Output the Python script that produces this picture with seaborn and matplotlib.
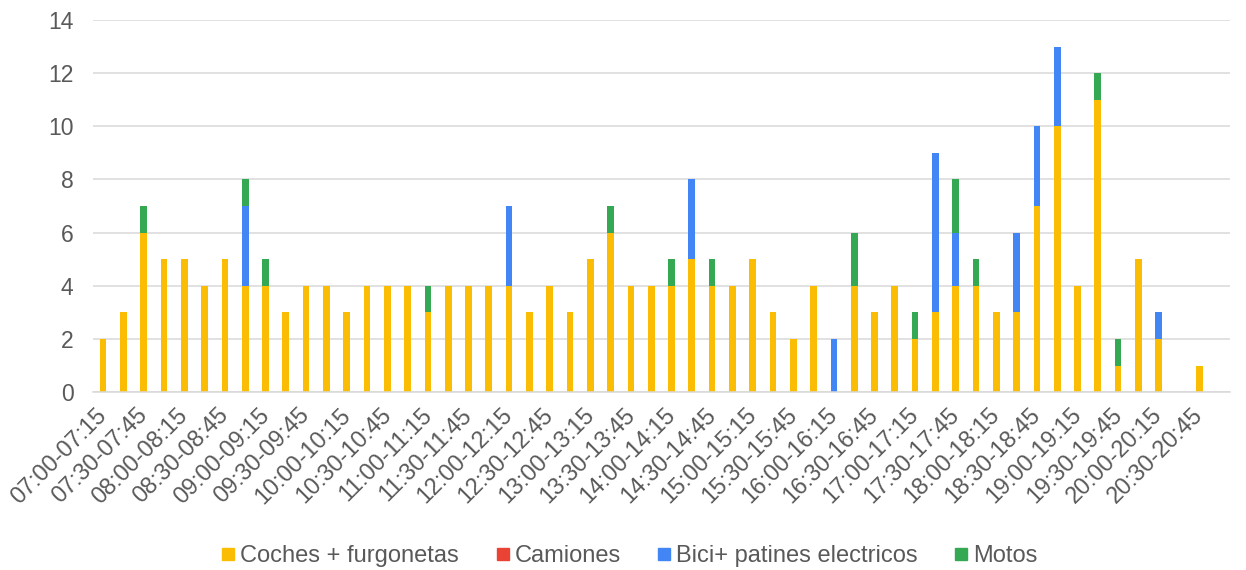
import numpy as np
import pandas as pd
import seaborn as sns
import matplotlib.pyplot as plt
from matplotlib.lines import Line2D

# franjas de 15 minutos, 07:00 -> 21:00
inicios = pd.date_range('07:00', '20:45', freq='15min')
intervalos = [f"{t:%H:%M}-{t + pd.Timedelta(minutes=15):%H:%M}" for t in inicios]

coches = [2, 3, 6, 5, 5, 4, 5, 4, 4, 3,
          4, 4, 3, 4, 4, 4, 3, 4, 4, 4,
          4, 3, 4, 3, 5, 6, 4, 4, 4, 5,
          4, 4, 5, 3, 2, 4, 0, 4, 3, 4,
          2, 3, 4, 4, 3, 3, 7, 10, 4, 11,
          1, 5, 2, 0, 1, 0]
camiones = [0] * 56
bici = [0, 0, 0, 0, 0, 0, 0, 3, 0, 0,
        0, 0, 0, 0, 0, 0, 0, 0, 0, 0,
        3, 0, 0, 0, 0, 0, 0, 0, 0, 3,
        0, 0, 0, 0, 0, 0, 2, 0, 0, 0,
        0, 6, 2, 0, 0, 3, 3, 3, 0, 0,
        0, 0, 1, 0, 0, 0]
motos = [0, 0, 1, 0, 0, 0, 0, 1, 1, 0,
         0, 0, 0, 0, 0, 0, 1, 0, 0, 0,
         0, 0, 0, 0, 0, 1, 0, 0, 1, 0,
         1, 0, 0, 0, 0, 0, 0, 2, 0, 0,
         1, 0, 2, 1, 0, 0, 0, 0, 0, 1,
         1, 0, 0, 0, 0, 0]

series = ['Coches + furgonetas', 'Camiones', 'Bici+ patines electricos', 'Motos']
colores = ['#FBBC04', '#EA4335', '#4285F4', '#34A853']
gris = '#595959'

df = pd.DataFrame({'Intervalo': intervalos, series[0]: coches, series[1]: camiones,
                   series[2]: bici, series[3]: motos})

sns.set_theme(style='white')
plt.rcParams['font.family'] = ['Liberation Sans', 'DejaVu Sans']

fig, ax = plt.subplots(figsize=(12.46, 5.70), dpi=100)
fig.subplots_adjust(left=0.0746, right=0.987, top=0.965, bottom=0.312)

bottom = np.zeros(len(df))
for name, col in zip(series, colores):
    sns.barplot(data=df, x='Intervalo', y=name, order=intervalos, color=col,
                width=0.33, bottom=bottom, errorbar=None, saturation=1,
                linewidth=0, ax=ax)
    bottom = bottom + df[name].values

ax.set_ylim(0, 14)
ax.set_yticks(range(0, 15, 2))
ax.set_xticks(range(0, len(intervalos), 2))
ax.set_xticklabels(intervalos[::2], rotation=45, ha='right', va='center',
                   rotation_mode='anchor')
ax.set_xlabel('')
ax.set_ylabel('')
ax.grid(axis='y', color='#D9D9D9', linewidth=1.1)
ax.set_axisbelow(True)
for s in ['top', 'right', 'left']:
    ax.spines[s].set_visible(False)
ax.spines['bottom'].set_color('#D9D9D9')
ax.spines['bottom'].set_linewidth(1.1)
ax.tick_params(axis='y', length=0, pad=14, labelsize=16.5, labelcolor=gris)
ax.tick_params(axis='x', length=0, pad=14, labelsize=16.8, labelcolor=gris)

handles = [Line2D([], [], marker='s', ls='', color=c, markersize=8) for c in colores]
fig.legend(handles, series, loc='center', bbox_to_anchor=(630 / 1246, 1 - 556 / 570),
           ncol=4, frameon=False, fontsize=17, handletextpad=0.25,
           columnspacing=1.6, handlelength=0.5, labelcolor=gris)

fig.savefig('out.png', dpi=100)
